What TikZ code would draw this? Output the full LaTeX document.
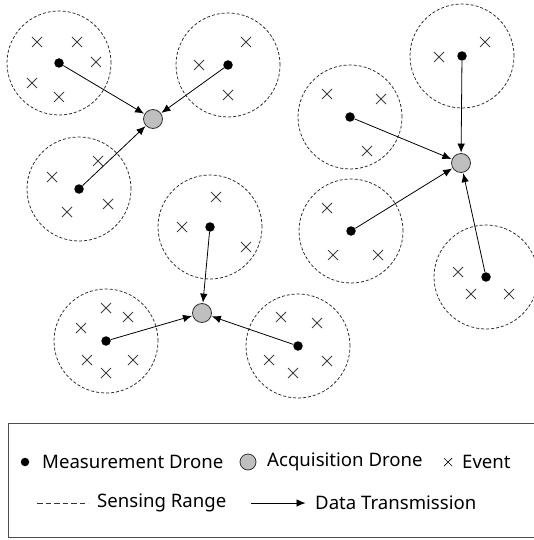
\documentclass[tikz,border=0pt]{standalone}
\usepackage{fontspec}
\setmainfont{Noto Sans}
\usetikzlibrary{arrows.meta}
\tikzset{
  senserange/.style={draw=black!85, dash pattern=on 3pt off 2pt, line width=0.75pt, circle, minimum size=104pt, inner sep=0pt},
  mdrone/.style={circle, fill=black, minimum size=9.5pt, inner sep=0pt},
  adrone/.style={circle, draw=black!80, fill=black!25, line width=0.8pt, minimum size=19pt, inner sep=0pt},
  txarrow/.style={-{Latex[length=9pt,width=7.5pt]}, line width=0.8pt, shorten >=0.5pt},
  evcross/.style={draw=black!75, line width=0.9pt},
  lbl/.style={font=\fontsize{18.6}{22}\selectfont, inner sep=0pt, anchor=west}
}
\newcommand{\evmark}[2]{\draw[evcross] (#1-5,#2-5) -- (#1+5,#2+5) (#1-5,#2+5) -- (#1+5,#2-5);}
\begin{document}
\begin{tikzpicture}[x=1pt,y=-1pt]
\useasboundingbox (0,0) rectangle (534,540);
% sensing ranges and measurement drones
\foreach \n/\x/\y in {m1/59/63, m2/228/65, m3/79/189, m4/210/227, m5/106/341, m6/298/346, m7/462/56, m8/350/117, m9/351/231, m10/486/277}{
  \node[senserange] (r\n) at (\x,\y) {};
  \node[mdrone] (\n) at (\x,\y) {};
}
% acquisition drones
\node[adrone] (a1) at (153,119) {};
\node[adrone] (a2) at (202,313) {};
\node[adrone] (a3) at (461,163) {};
% events
\evmark{37}{42}\evmark{77}{42}\evmark{96}{62}\evmark{32}{83}\evmark{59}{97}
\evmark{246}{42}\evmark{199}{65}\evmark{228}{95}
\evmark{98}{161}\evmark{52}{177}\evmark{108}{204}\evmark{67}{212}
\evmark{216}{197}\evmark{182}{227}\evmark{246}{247}
\evmark{106}{308}\evmark{128}{317}\evmark{81}{328}\evmark{87}{360}\evmark{133}{360}\evmark{106}{373}
\evmark{281}{317}\evmark{317}{323}\evmark{269}{360}\evmark{327}{361}\evmark{293}{373}
\evmark{485}{42}\evmark{439}{57}
\evmark{327}{94}\evmark{381}{99}\evmark{367}{151}
\evmark{327}{208}\evmark{333}{255}\evmark{378}{255}
\evmark{458}{272}\evmark{471}{294}\evmark{509}{294}
% transmissions
\draw[txarrow] (m1) -- (a1);
\draw[txarrow] (m2) -- (a1);
\draw[txarrow] (m3) -- (a1);
\draw[txarrow] (m4) -- (a2);
\draw[txarrow] (m5) -- (a2);
\draw[txarrow] (m6) -- (a2);
\draw[txarrow] (m7) -- (a3);
\draw[txarrow] (m8) -- (a3);
\draw[txarrow] (m9) -- (a3);
\draw[txarrow] (m10) -- (a3);
% legend
\node[draw=black!70, line width=0.9pt, minimum width=540pt, minimum height=114pt, anchor=north west, inner sep=0pt] (legend) at (8,423) {};
\node[mdrone, minimum size=8.5pt] (lm) at (25,462) {};
\node[lbl] (lmt) at (42,462) {Measurement Drone};
\node[adrone, minimum size=16pt] (la) at (248,462) {};
\node[lbl] (lat) at (267,462) {Acquisition Drone};
\coordinate (lx) at (448,462);
\draw[black, line width=0.7pt] ([shift={(-4,-4)}]lx) -- ([shift={(4,4)}]lx) ([shift={(-4,4)}]lx) -- ([shift={(4,-4)}]lx);
\node[lbl] (lxt) at (462,462) {Event};
\coordinate (ls1) at (37,503);
\coordinate (ls2) at (88,503);
\draw[draw=black!80, dash pattern=on 5.5pt off 3pt, line width=0.75pt] (ls1) -- (ls2);
\node[lbl] (lst) at (97,503) {Sensing Range};
\coordinate (lt1) at (251,503);
\coordinate (lt2) at (306,503);
\draw[txarrow] (lt1) -- (lt2);
\node[lbl] (ltt) at (315,503) {Data Transmission};
\end{tikzpicture}
\end{document}
